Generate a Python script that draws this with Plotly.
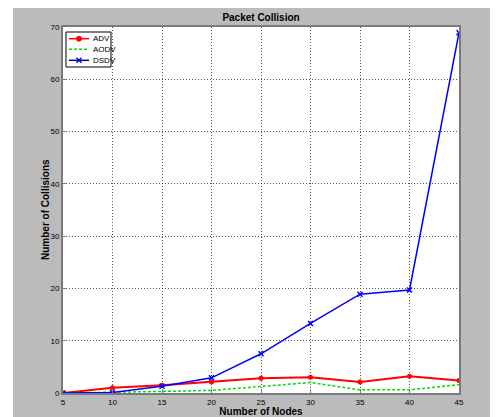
import plotly.graph_objects as go

nodes = [5, 10, 15, 20, 25, 30, 35, 40, 45]
adv = [0.0, 1.0, 1.5, 2.1, 2.8, 3.0, 2.1, 3.2, 2.4]
aodv = [0.0, 0.1, 0.3, 0.5, 1.2, 2.0, 0.6, 0.6, 1.6]
dsdv = [0.0, 0.1, 1.3, 2.9, 7.5, 13.3, 18.9, 19.7, 68.9]
series_names = ["ADV", "AODV", "DSDV"]

x_ticks = [5, 10, 15, 20, 25, 30, 35, 40, 45]
y_ticks = [0, 10, 20, 30, 40, 50, 60, 70]

# page body has an 8px margin, so the figure starts at (8, 8) on screen
OFF = 8
W, H = 498 - OFF, 417 - OFF
# plot area on screen: x 63..459, y 27..393
L, R, T, B = 63 - OFF, 498 - 459, 27 - OFF, 417 - 393
pw, ph = W - L - R, H - T - B


def px(xs):
    return (xs - OFF - L) / pw


def py(ys):
    return (H - B - (ys - OFF)) / ph


RED, GREEN, BLUE = "#ff0000", "#00dd00", "#0000ff"

fig = go.Figure()
fig.add_trace(go.Scatter(x=nodes, y=adv, name=series_names[0], mode="lines+markers",
                         line=dict(color=RED, width=2),
                         marker=dict(symbol="circle", size=5, color=RED)))
fig.add_trace(go.Scatter(x=nodes, y=aodv, name=series_names[1], mode="lines",
                         line=dict(color=GREEN, width=1.5, dash="3px,2px")))
fig.add_trace(go.Scatter(x=nodes, y=dsdv, name=series_names[2], mode="lines+markers",
                         line=dict(color=BLUE, width=1.5),
                         marker=dict(symbol="x-thin", size=5,
                                     line=dict(color=BLUE, width=1.5))))

axis_common = dict(
    automargin=False,
    showgrid=True, gridcolor="#555555", griddash="1px,2px", gridwidth=1,
    showline=True, linecolor="#7a7a7a", linewidth=2, mirror=True,
    ticks="inside", ticklen=4, tickcolor="#7a7a7a",
    zeroline=False,
    tickfont=dict(family="Liberation Sans Narrow, Liberation Sans, Arial", size=8, color="#000000"),
)
title_font = dict(family="Liberation Sans, Arial", size=10, color="#000000")

fig.update_layout(
    width=W, height=H,
    margin=dict(l=L, r=R, t=T, b=B, autoexpand=False),
    paper_bgcolor="#bbbbbb",
    plot_bgcolor="#ffffff",
    showlegend=False,
    title=dict(text="<b>Packet Collision</b>", x=(L + pw / 2) / W,
               xanchor="center", y=1 - (17 - OFF) / H, yanchor="middle", font=title_font),
    xaxis=dict(range=[5, 45], tickvals=x_ticks,
               title=dict(text="<b>Number of Nodes</b>", standoff=3, font=title_font),
               **axis_common),
    yaxis=dict(range=[0, 70], tickvals=y_ticks, **axis_common),
)

# y-axis title placed close to the tick labels, as in the original
fig.add_annotation(xref="paper", yref="paper", x=px(45), y=py(210),
                   xanchor="center", yanchor="middle", textangle=-90, showarrow=False,
                   text="<b>Number of Collisions</b>", font=title_font)

# white strip on the left of the gray figure area
fig.add_shape(type="rect", xref="paper", yref="paper",
              x0=px(OFF) - 0.01, x1=px(13), y0=py(H + OFF) - 0.01, y1=py(OFF) + 0.01,
              fillcolor="#ffffff", line=dict(width=0), layer="below")

# compact MATLAB-style legend box
fig.add_shape(type="rect", xref="paper", yref="paper",
              x0=px(66), x1=px(111), y0=py(67), y1=py(32),
              fillcolor="#ffffff", line=dict(color="#000000", width=1), layer="above")
entry_y = [38.7, 49.3, 60.3]
styles = [dict(color=RED, width=1.5), dict(color=GREEN, width=1.5, dash="3px,2px"),
          dict(color="#000080", width=1.5)]
for name, yy, st in zip(series_names, entry_y, styles):
    fig.add_shape(type="line", xref="paper", yref="paper",
                  x0=px(69), x1=px(89), y0=py(yy), y1=py(yy), line=st, layer="above")
    fig.add_annotation(xref="paper", yref="paper", x=px(90.5), y=py(yy),
                       xanchor="left", yanchor="middle", showarrow=False, text=name,
                       font=dict(family="Liberation Sans Narrow, Liberation Sans, Arial",
                                 size=8, color="#000000"))
# legend glyph markers
cy = entry_y[0]
fig.add_shape(type="circle", xref="paper", yref="paper",
              x0=px(76.5), x1=px(81.5), y0=py(cy + 2.5), y1=py(cy - 2.5),
              fillcolor=RED, line=dict(color=RED, width=1), layer="above")
cy = entry_y[2]
for a, b in [((-2.5, -2.5), (2.5, 2.5)), ((-2.5, 2.5), (2.5, -2.5))]:
    fig.add_shape(type="line", xref="paper", yref="paper",
                  x0=px(79 + a[0]), y0=py(cy + a[1]), x1=px(79 + b[0]), y1=py(cy + b[1]),
                  line=dict(color=BLUE, width=1.5), layer="above")

fig.write_html("out.html")
